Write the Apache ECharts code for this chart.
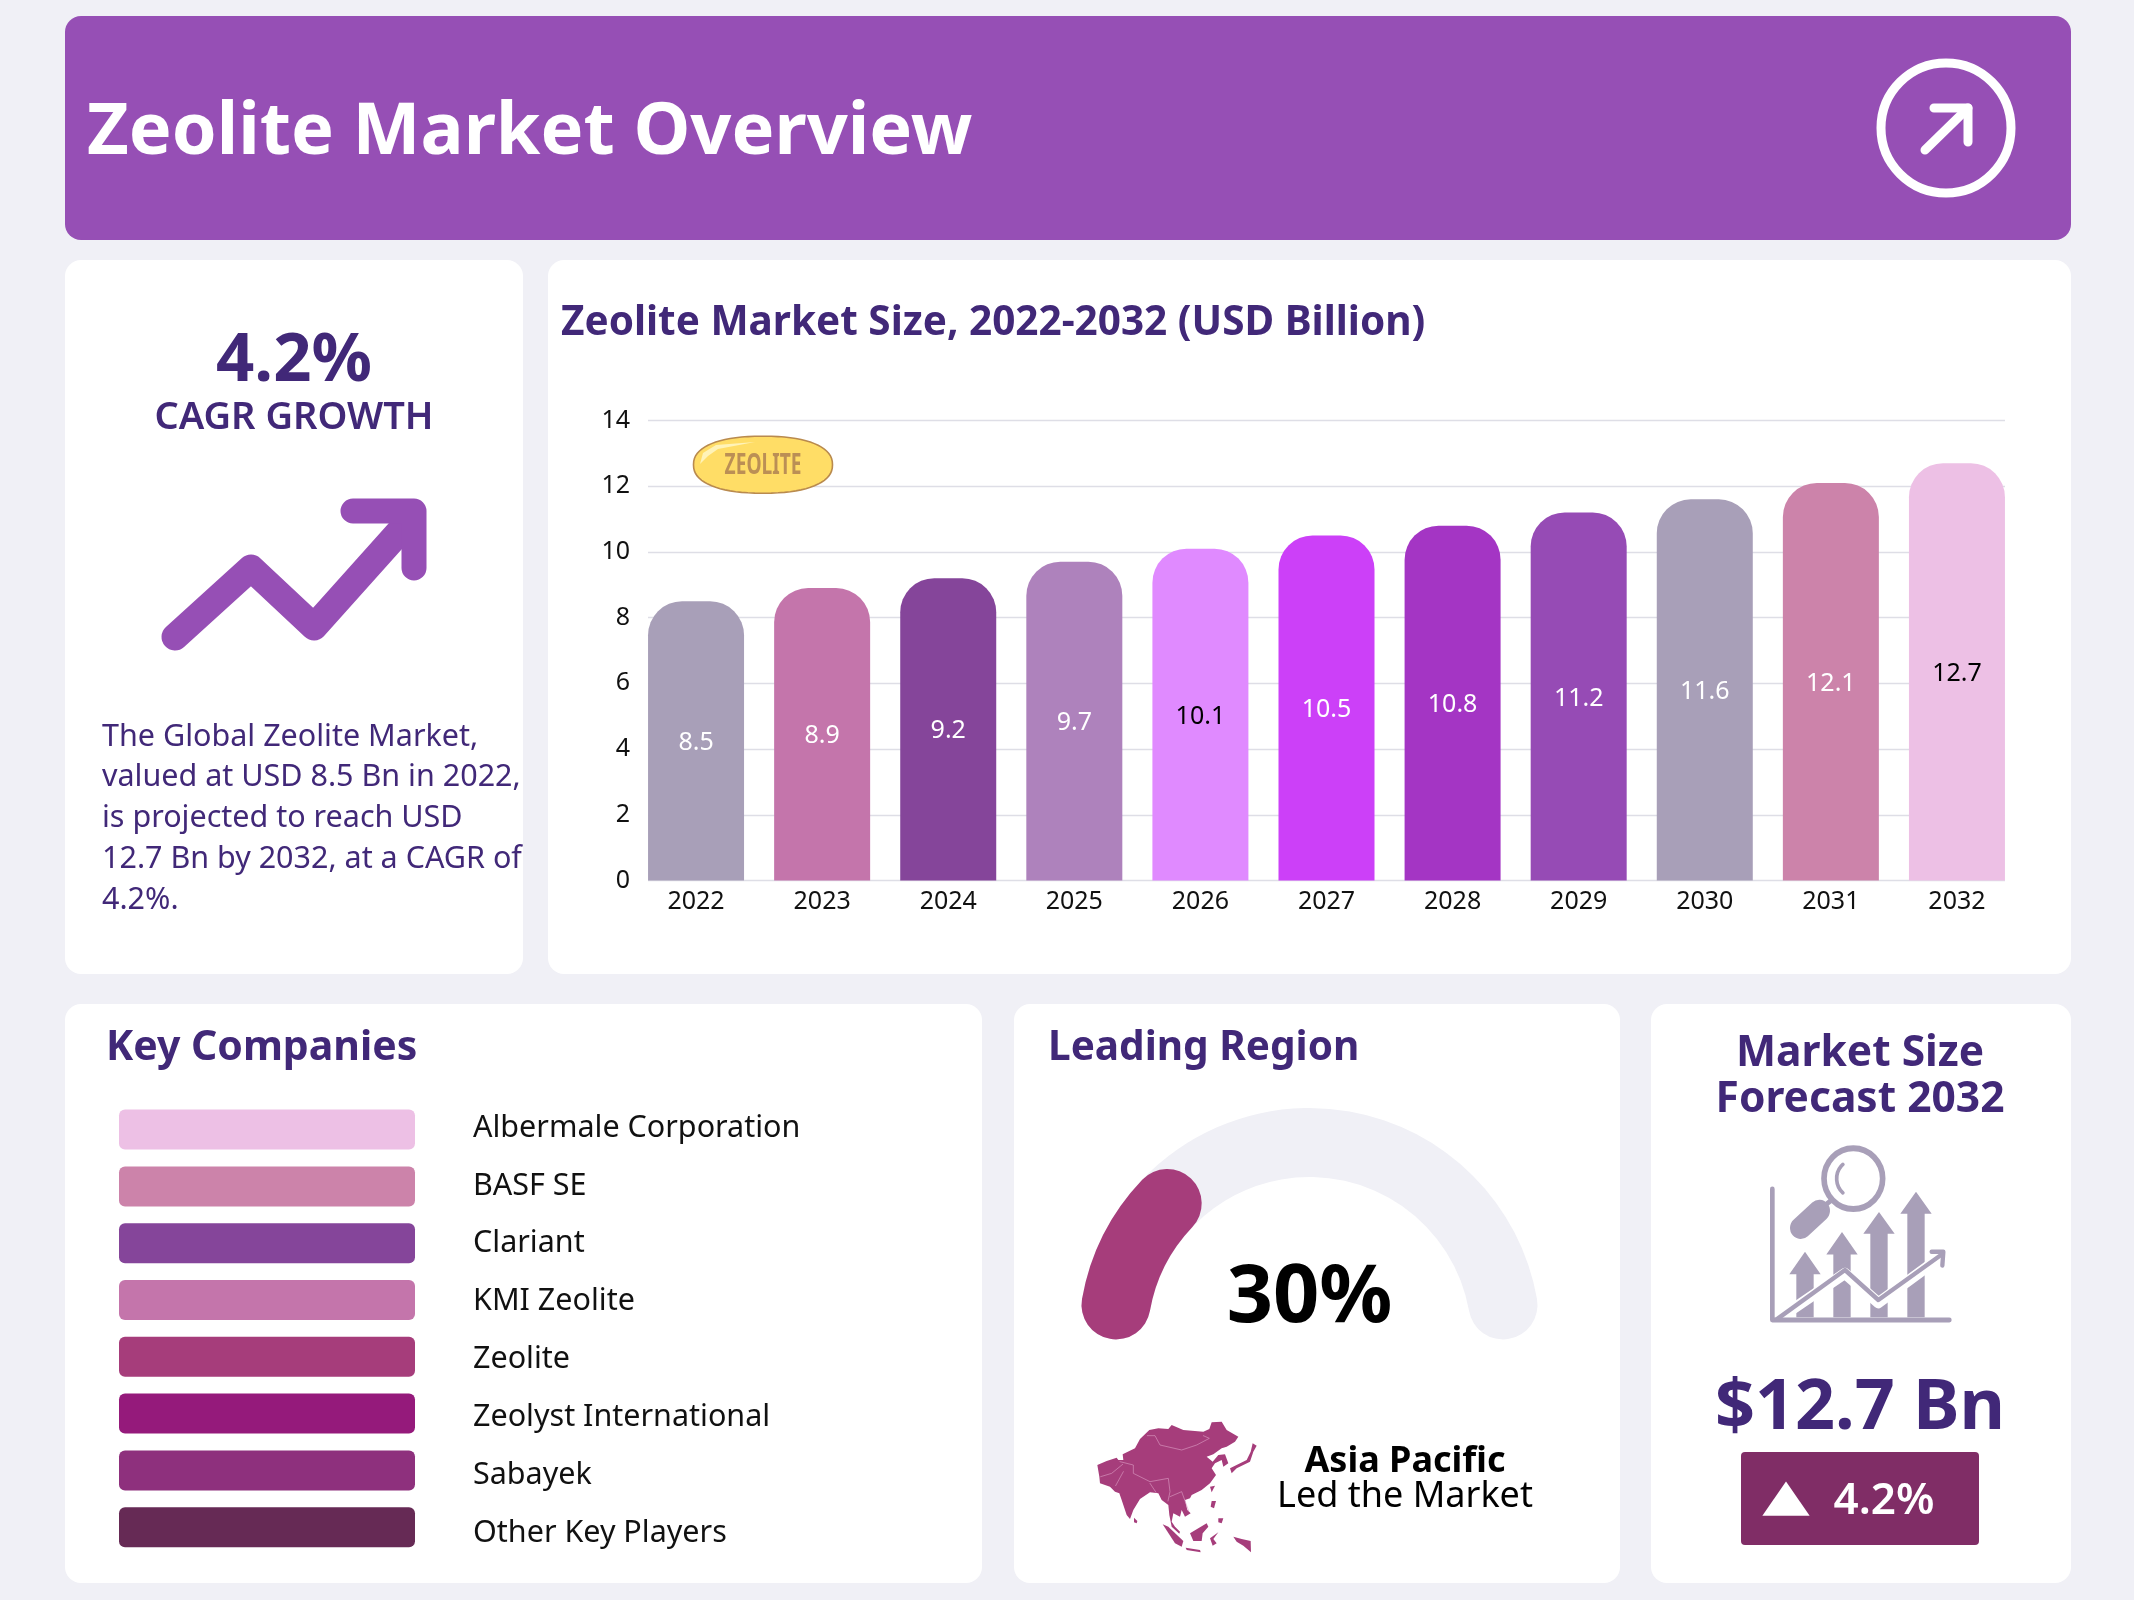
<!DOCTYPE html>
<html>
<head>
<meta charset="utf-8">
<title>Zeolite Market Overview</title>
<script src="https://cdn.jsdelivr.net/npm/echarts@6/dist/echarts.min.js"></script>
<style>
html,body{margin:0;padding:0;background:#f0f0f6;}
#main{width:2134px;height:1600px;}
</style>
</head>
<body>
<div id="main"></div>
<script>
var years = ['2022','2023','2024','2025','2026','2027','2028','2029','2030','2031','2032'];
var marketSize = [8.5,8.9,9.2,9.7,10.1,10.5,10.8,11.2,11.6,12.1,12.7];
var barColors = ['#a89fb8','#c475ab','#85459a','#ae82bc','#e08aff','#cc40f8','#a435c4','#964bb5','#a89fb8','#cc83aa','#edc0e5'];
var labelColors = ['#fff','#fff','#fff','#fff','#000','#fff','#fff','#fff','#fff','#fff','#000'];
var companies = ['Albermale Corporation','BASF SE','Clariant','KMI Zeolite','Zeolite','Zeolyst International','Sabayek','Other Key Players'];
var companyColors = ['#edc0e5','#cc83aa','#85459a','#c475ab','#a63d7b','#951a7b','#8e307d','#662a55'];
var leadingShare = 30;
// the arc in the picture stops about 21% along its sweep, whatever its label says
var arcFill = 21;
var summaryLines = ['The Global Zeolite Market,','valued at USD 8.5 Bn in 2022,','is projected to reach USD','12.7 Bn by 2032, at a CAGR of','4.2%.'];

var myChart = echarts.init(document.getElementById('main'));

var FONT = '"Noto Sans"';
var DARK = '#412878';
var PURPLE = '#964fb5';
var LILAC = '#a89fb8';
var MAP = '#a63d7b';
var BORDER = '#dd9fc6';

function card(x,y,w,h,color){
    return {type:'rect',z:-1,shape:{x:x,y:y,width:w,height:h,r:16},style:{fill:color||'#fff'}};
}
function txt(x,y,text,font,fill,align){
    return {type:'text',z:10,style:{x:x,y:y,text:text,font:font+' '+FONT,fill:fill,textAlign:align||'left',textVerticalAlign:'middle'}};
}
function line(points,width,color){
    return {type:'polyline',z:10,shape:{points:points},style:{stroke:color,lineWidth:width,lineCap:'round',lineJoin:'round',fill:null}};
}
function poly(points,color){
    return {type:'polygon',z:10,shape:{points:points},style:{fill:color}};
}
function upArrow(cx,tip,base){
    return poly([[cx,tip],[cx+47,base],[cx+26,base],[cx+26,862],[cx-26,862],[cx-26,base],[cx-47,base]],LILAC);
}
// capsule outline, a little fuller than a plain ellipse
function capsule(cx,cy,rx,ry){
    var pts = [];
    for(var i=0;i<72;i++){
        var a = i/72*Math.PI*2, c = Math.cos(a), s = Math.sin(a);
        pts.push([cx+rx*(c<0?-1:1)*Math.pow(Math.abs(c),0.87),cy+ry*(s<0?-1:1)*Math.pow(Math.abs(s),0.87)]);
    }
    return pts;
}

var graphics = [
    card(65,16,2006,224,PURPLE),
    card(65,260,458,714),
    card(548,260,1523,714),
    card(65,1004,917,579),
    card(1014,1004,606,579),
    card(1651,1004,420,579),

    txt(87,133,'Zeolite Market Overview','700 72px','#fff'),
    {type:'circle',z:10,shape:{cx:1946,cy:128,r:65},style:{fill:null,stroke:'#fff',lineWidth:9}},
    line([[1925,150],[1968,108]],9,'#fff'),
    line([[1934,108],[1968,108],[1968,142]],9,'#fff'),

    txt(294,362,'4.2%','700 67px',DARK,'center'),
    txt(294,418,'CAGR GROWTH','600 38px',DARK,'center'),
    line([[175,637],[251,568],[314,627],[408,522]],27,PURPLE),
    line([[353,511],[414,511],[414,568]],25,PURPLE),

    txt(561,323,'Zeolite Market Size, 2022-2032 (USD Billion)','700 40.5px',DARK),

    // capsule sitting on the chart
    {type:'polygon',z:10,shape:{points:capsule(763,464.7,69.5,28.5)},style:{fill:'#ffdd66',stroke:'#b98a4e',lineWidth:1.6}},
    {type:'text',z:11,x:763,y:466,scaleX:0.66,style:{x:0,y:0,text:'ZEOLITE',font:'700 29px '+FONT,fill:'#bb8f55',textAlign:'center',textVerticalAlign:'middle'}},
    poly([[700,464],[703,453],[716,445],[755,442],[718,449],[708,456]],'#fff3b8'),

    txt(106,1048,'Key Companies','700 41px',DARK),
    txt(1048,1048,'Leading Region','700 40.5px',DARK),

    // Asia Pacific silhouette, shapes follow a 3x crop of the picture
    {type:'group',z:10,x:1090,y:1415,scaleX:1/3,scaleY:1/3,children:[
        poly([[22,150],[50,138],[80,128],[85,135],[100,135],[98,118],[135,100],[150,72],[178,45],[205,40],[235,42],[245,30],[280,45],[340,50],[358,42],[365,22],[395,20],[410,45],[445,65],[435,80],[410,95],[395,100],[370,118],[350,125],[368,140],[385,120],[405,118],[415,145],[400,155],[395,135],[375,145],[365,160],[378,180],[360,205],[335,225],[305,240],[300,250],[285,255],[292,285],[302,295],[285,305],[275,285],[270,305],[250,295],[245,320],[255,335],[270,350],[268,356],[245,335],[238,300],[235,270],[215,255],[205,235],[180,232],[150,252],[130,285],[120,312],[110,300],[95,255],[88,235],[75,230],[60,215],[30,205],[28,185]],MAP),
        poly([[132,308],[142,318],[140,325],[132,322]],MAP),
        poly([[218,328],[235,335],[280,378],[275,395],[255,385]],MAP),
        poly([[300,355],[325,340],[350,325],[355,335],[338,355],[335,378],[310,378]],MAP),
        poly([[287,398],[330,405],[332,412],[290,405]],MAP),
        poly([[360,370],[385,352],[370,372],[380,385],[368,392]],MAP),
        poly([[430,365],[455,372],[482,378],[483,412],[460,392],[440,380]],MAP),
        poly([[365,258],[378,258],[372,280],[362,275]],MAP),
        poly([[385,310],[400,310],[395,325],[385,322]],MAP),
        poly([[420,160],[470,135],[482,110],[488,85],[500,92],[490,110],[480,140],[440,160],[425,175]],MAP),
        poly([[360,215],[375,212],[365,232]],MAP),
        line([[172,62],[195,62],[210,90],[275,105],[320,90],[358,70],[340,62]],1.8,BORDER),
        line([[90,140],[130,150],[130,175],[180,200],[235,190],[240,230],[234,258]],1.8,BORDER),
        line([[32,185],[65,175],[98,148]],1.8,BORDER),
        line([[77,212],[100,170]],1.8,BORDER),
        line([[240,245],[275,230],[296,288]],1.8,BORDER),
        line([[180,205],[198,232]],1.8,BORDER)
    ]},
    txt(1405,1462,'Asia Pacific','700 36px','#000','center'),
    txt(1405,1497,'Led the Market','400 36px','#000','center'),

    txt(1860,1054,'Market Size','700 42.5px',DARK,'center'),
    txt(1860,1100,'Forecast 2032','700 42.5px',DARK,'center'),

    // magnifier + growth icon, same crop idea
    {type:'group',z:10,x:1680,y:1020,scaleX:1/3,scaleY:1/2.9,children:[
        upArrow(375,672,737),
        upArrow(486,615,680),
        upArrow(597,557,620),
        upArrow(708,498,562),
        line([[290,870],[495,735],[595,820],[785,685]],32,'#fff'),
        line([[277,490],[277,870],[808,870]],14,LILAC),
        line([[290,868],[495,725],[595,812],[785,680]],13,LILAC),
        line([[755,672],[790,672],[787,712]],13,LILAC),
        {type:'circle',z:10,shape:{cx:520,cy:460,r:88},style:{fill:'#fff',stroke:LILAC,lineWidth:17}},
        {type:'arc',z:10,shape:{cx:525,cy:460,r:55,startAngle:Math.PI*0.73,endAngle:Math.PI*1.27,clockwise:true},style:{stroke:LILAC,lineWidth:11,lineCap:'round',fill:null}},
        line([[362,603],[418,553]],64,LILAC),
        line([[425,545],[455,522]],14,LILAC)
    ]},
    txt(1860,1409,'$12.7 Bn','700 70px',DARK,'center'),
    {type:'rect',z:9,shape:{x:1741,y:1452,width:238,height:93,r:4},style:{fill:'#802d66'}},
    {type:'group',z:10,x:1680,y:1020,scaleX:1/3,scaleY:1/2.9,children:[poly([[247,1438],[318,1338],[389,1438]],'#fff')]},
    txt(1884,1501,'4.2%','600 44px','#fff','center')
];

summaryLines.forEach(function(s,i){
    graphics.push(txt(102,737+i*40.8,s,'400 30.5px',DARK));
});

companies.forEach(function(name,i){
    var cy = 1129.6+i*56.8;
    graphics.push({type:'rect',z:10,shape:{x:119,y:cy-20,width:296,height:40,r:6},style:{fill:companyColors[i]}});
    graphics.push(txt(473,1128+i*57.9,name,'400 30.5px','#111'));
});

var option = {
    animation:false,
    backgroundColor:'#f0f0f6',
    textStyle:{fontFamily:'Noto Sans'},
    // grid 0 carries the gridlines, grid 1 is wider so the outer bars sit flush with their ends
    grid:[
        {left:648,top:420.5,width:1357,height:460},
        {left:633,top:420.5,width:1387,height:460}
    ],
    xAxis:[
        {gridIndex:0,type:'category',data:years,show:false},
        {
            gridIndex:1,
            type:'category',
            data:years,
            axisLine:{show:false},
            axisTick:{show:false},
            axisLabel:{margin:9,fontSize:25,color:'#111',fontFamily:'Noto Sans'}
        }
    ],
    yAxis:[
        {
            gridIndex:0,
            type:'value',
            min:0,
            max:14,
            interval:2,
            axisLine:{show:false},
            axisTick:{show:false},
            axisLabel:{margin:18,fontSize:25,color:'#111',fontFamily:'Noto Sans',padding:[6,0,0,0]},
            splitLine:{lineStyle:{color:'#dedee6',width:1.4}}
        },
        {gridIndex:1,type:'value',min:0,max:14,interval:2,show:false,splitLine:{show:false}}
    ],
    series:[
        {
            type:'bar',
            xAxisIndex:1,
            yAxisIndex:1,
            barWidth:96,
            itemStyle:{borderRadius:[34,34,0,0]},
            data:marketSize.map(function(v,i){
                return {
                    value:v,
                    itemStyle:{color:barColors[i]},
                    label:{show:true,position:'inside',offset:[0,2],fontSize:25,color:labelColors[i],fontFamily:'Noto Sans'}
                };
            })
        },
        {
            type:'gauge',
            center:[1309.5,1339],
            radius:231,
            startAngle:170,
            endAngle:10,
            min:0,
            max:100,
            pointer:{show:false},
            axisTick:{show:false},
            splitLine:{show:false},
            axisLabel:{show:false},
            axisLine:{roundCap:true,lineStyle:{width:69,color:[[1,'#f0f0f6']]}},
            progress:{show:true,roundCap:true,width:69,itemStyle:{color:MAP}},
            title:{show:false},
            detail:{
                valueAnimation:false,
                offsetCenter:[0,-40],
                fontSize:81,
                fontWeight:700,
                color:'#000',
                fontFamily:'Noto Sans',
                formatter:function(){return leadingShare+'%';}
            },
            data:[{value:arcFill}]
        }
    ],
    graphic:{elements:graphics}
};

myChart.setOption(option);
</script>
</body>
</html>
